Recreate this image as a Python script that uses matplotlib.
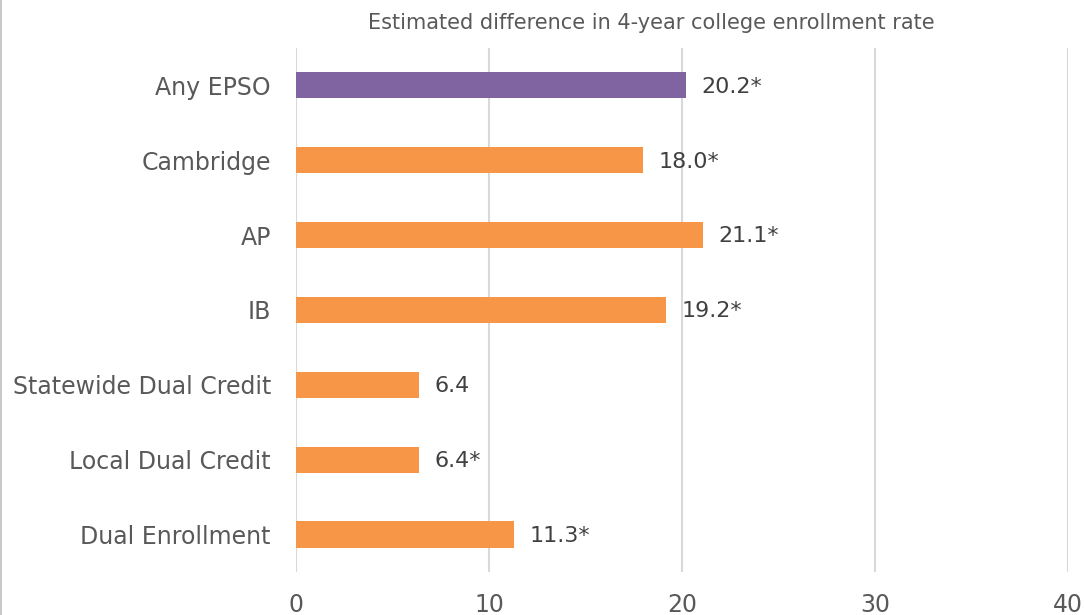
import matplotlib.pyplot as plt
from matplotlib.lines import Line2D

# Data
categories = ['Any EPSO', 'Cambridge', 'AP', 'IB', 'Statewide Dual Credit',
              'Local Dual Credit', 'Dual Enrollment']
values = [20.2, 18.0, 21.1, 19.2, 6.4, 6.4, 11.3]
value_labels = ['20.2*', '18.0*', '21.1*', '19.2*', '6.4', '6.4*', '11.3*']
bar_colors = ['#8064A2', '#F79646', '#F79646', '#F79646', '#F79646', '#F79646', '#F79646']
x_ticks = [0, 10, 20, 30, 40]

plt.rcParams['font.family'] = ['DejaVu Sans']
text_color = '#595959'

fig = plt.figure(figsize=(10.84, 6.15), dpi=100)
ax = fig.add_axes([0.273, 0.070, 0.712, 0.852])

y = list(range(len(categories)))
ax.barh(y, values, height=0.35, color=bar_colors, zorder=3)

for yi, v, lab in zip(y, values, value_labels):
    ax.annotate(lab, (v, yi), xytext=(11, -1), textcoords='offset points',
                va='center', ha='left', fontsize=16, color='#404040')

ax.set_xlim(0, 40)
ax.set_ylim(len(categories) - 0.5, -0.5)
ax.set_xticks(x_ticks)
ax.set_yticks(y)
ax.set_yticklabels(categories)
ax.tick_params(axis='both', length=0, labelsize=17, colors=text_color)
ax.tick_params(axis='y', pad=18)
ax.tick_params(axis='x', pad=15)
ax.grid(axis='x', color='#d9d9d9', linewidth=1.5, zorder=0)
for s in ax.spines.values():
    s.set_visible(False)

fig.text(651 / 1084, 1 - 23 / 615,
         'Estimated difference in 4-year college enrollment rate',
         fontsize=15, color=text_color, ha='center', va='center')

# thin border line on left edge
fig.add_artist(Line2D([0.001, 0.001], [0, 1], color='#bfbfbf', linewidth=1.2,
                      transform=fig.transFigure))

fig.savefig('out.png', dpi=100)
